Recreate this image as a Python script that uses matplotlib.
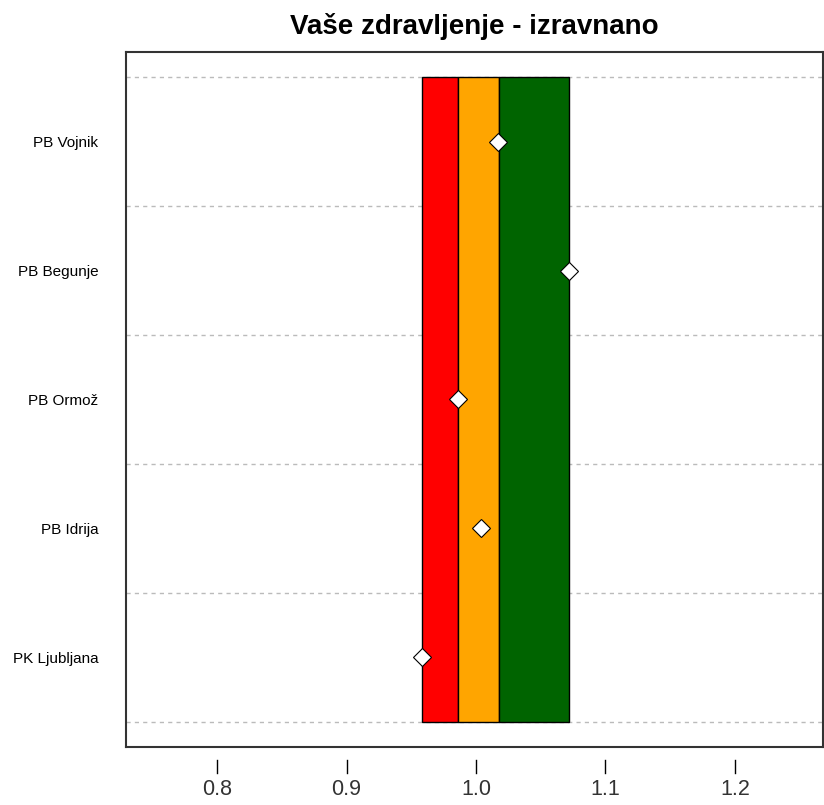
import matplotlib
matplotlib.use("Agg")
import matplotlib.pyplot as plt
import matplotlib.transforms as mtransforms

# Data
hospitals = ["PK Ljubljana", "PB Idrija", "PB Ormož", "PB Begunje", "PB Vojnik"]
scores = [0.958, 1.004, 0.986, 1.072, 1.017]

# colour bands (left edge, right edge, colour)
band_edges = [0.958, 0.986, 1.0175, 1.072]
band_colors = ["#FF0000", "#FFA500", "#006400"]

xticks = [0.8, 0.9, 1.0, 1.1, 1.2]
xtick_labels = ["0.8", "0.9", "1.0", "1.1", "1.2"]

plt.rcParams["font.family"] = ["Liberation Sans", "DejaVu Sans"]

fig = plt.figure(figsize=(8.24, 8.05), dpi=100)
ax = fig.add_axes([126 / 824, 1 - 747 / 805, (823 - 126) / 824, (747 - 52) / 805])

n = len(hospitals)
ypos = list(range(1, n + 1))

# dashed separators
for y in [p - 0.5 for p in ypos] + [n + 0.5]:
    ax.axhline(y, color="#BBBBBB", lw=1, ls=(0, (3, 3)), zorder=1)

# bands
for i, c in enumerate(band_colors):
    ax.bar(
        (band_edges[i] + band_edges[i + 1]) / 2,
        n,
        width=band_edges[i + 1] - band_edges[i],
        bottom=0.5,
        color=c,
        edgecolor="black",
        linewidth=1,
        zorder=2,
    )

# points
ax.plot(scores, ypos, ls="none", marker="D", markersize=9,
        markerfacecolor="white", markeredgecolor="black",
        markeredgewidth=0.8, zorder=4, clip_on=False)

ax.set_xlim(0.7297, 1.268)
ax.set_ylim(0.306, 5.694)

# y labels, no tick marks
ax.set_yticks(ypos)
ax.set_yticklabels(hospitals, fontsize=11)
ax.tick_params(axis="y", length=0, pad=20)

# x ticks drawn detached from the box (R style)
ax.set_xticks(xticks)
ax.set_xticklabels(xtick_labels, fontsize=15.5, color="#333333")
ax.tick_params(axis="x", length=0, pad=23)
trans = mtransforms.blended_transform_factory(ax.transData, ax.transAxes)
for xt in xticks:
    ax.plot([xt, xt], [-0.019, -0.037], color="black", lw=1,
            transform=trans, clip_on=False)

for s in ax.spines.values():
    s.set_linewidth(1.5)
    s.set_color("#333333")

fig.text(474 / 824, 1 - 27 / 805, "Vaše zdravljenje - izravnano",
         ha="center", va="center", fontsize=20, fontweight="bold")

fig.savefig("out.png", dpi=100, facecolor="white")
